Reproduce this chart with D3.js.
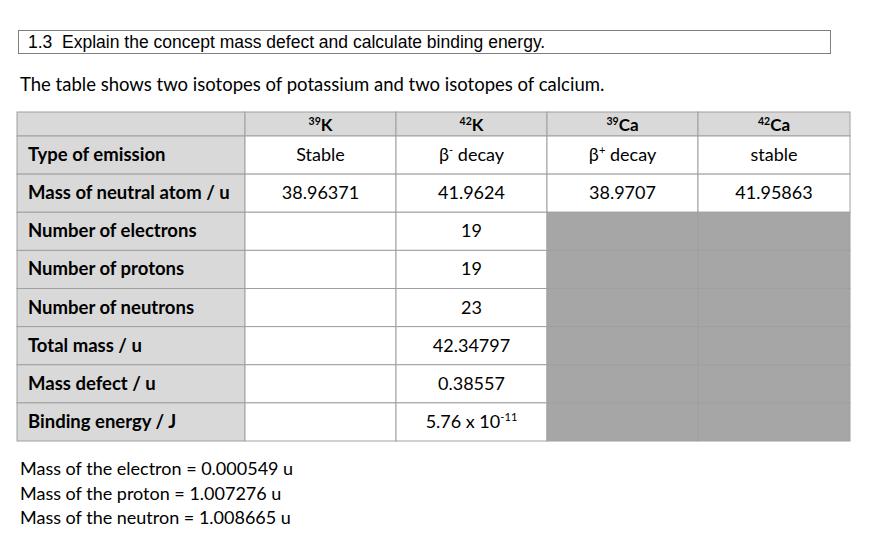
<!DOCTYPE html>
<html><head><meta charset="utf-8">
<script src="https://cdn.jsdelivr.net/npm/d3@7"></script>
<style>body{margin:0;background:#fff}</style></head>
<body><svg id="c" width="875" height="552"></svg>
<script>
const isotopes = [{m:"39",s:"K"},{m:"42",s:"K"},{m:"39",s:"Ca"},{m:"42",s:"Ca"}];
const rowLabels = ["Type of emission","Mass of neutral atom / u","Number of electrons","Number of protons","Number of neutrons","Total mass / u","Mass defect / u","Binding energy / J"];
const col39K = ["Stable","38.96371","","","","","",""];
const col42K = ["β|-| decay","41.9624","19","19","23","42.34797","0.38557","5.76 x 10|-11|"];
const col39Ca = ["β|+| decay","38.9707",null,null,null,null,null,null];
const col42Ca = ["stable","41.95863",null,null,null,null,null,null];
const cols = [col39K,col42K,col39Ca,col42Ca];
const notes = ["Mass of the electron = 0.000549 u","Mass of the proton = 1.007276 u","Mass of the neutron = 1.008665 u"];

const svg = d3.select("#c");
const F = "Lato, 'Open Sans', sans-serif";
svg.append("rect").attr("x",18.5).attr("y",30.5).attr("width",812).attr("height",23).attr("fill","none").attr("stroke","#7f7f7f");
svg.append("text").attr("x",28).attr("y",48).attr("font-family","Arial, 'Liberation Sans'").attr("font-size",17.5).attr("xml:space","preserve").text("1.3  Explain the concept mass defect and calculate binding energy.");
svg.append("text").attr("x",20).attr("y",91).attr("font-family",F).attr("font-size",18.5).text("The table shows two isotopes of potassium and two isotopes of calcium.");

const xEdges=[17,245,396,547,698,850];
const X = i=>xEdges[i];
const yRow = d3.scaleLinear().domain([0,8]).range([136,441]);
const Y = r => r<0?112:yRow(r);
const stroke="#a0a0a0";
const g=svg.append("g");
function cell(x0,x1,y0,y1,fill){g.append("rect").attr("x",x0).attr("y",y0).attr("width",x1-x0).attr("height",y1-y0).attr("fill",fill).attr("stroke",stroke).attr("stroke-width",1);}
function richText(x,y,str,anchor,bold,size){
  const t=g.append("text").attr("x",x).attr("y",y).attr("text-anchor",anchor).attr("font-family",F).attr("font-size",size).attr("font-weight",bold?"bold":"normal").attr("fill","#000");
  const parts=str.split("|");
  parts.forEach((p,i)=>{ if(!p)return; const s=t.append("tspan").text(p); if(i%2===1){s.attr("font-size",size*0.62).attr("dy",-size*0.38);} else if(i>0){s.attr("dy",size*0.38);} });
}
cell(X(0),X(1),Y(-1),Y(0),"#d9d9d9");
isotopes.forEach((iso,i)=>{cell(X(i+1),X(i+2),Y(-1),Y(0),"#d9d9d9");
  richText((X(i+1)+X(i+2))/2,Y(-1)+19,"|"+iso.m+"|"+iso.s,"middle",true,17);});
rowLabels.forEach((lab,r)=>{
  cell(X(0),X(1),Y(r),Y(r+1),"#d9d9d9");
  richText(X(0)+11,(Y(r)+Y(r+1))/2+6,lab,"start",true,18.5);
  cols.forEach((c,i)=>{const v=c[r];
    cell(X(i+1),X(i+2),Y(r),Y(r+1),v===null?"#a6a6a6":"#fff");
    if(v) richText((X(i+1)+X(i+2))/2,(Y(r)+Y(r+1))/2+6,v,"middle",false,18);});
});
notes.forEach((n,i)=>svg.append("text").attr("x",20).attr("y",475+i*24.5).attr("font-family",F).attr("font-size",18).text(n));
</script></body></html>
